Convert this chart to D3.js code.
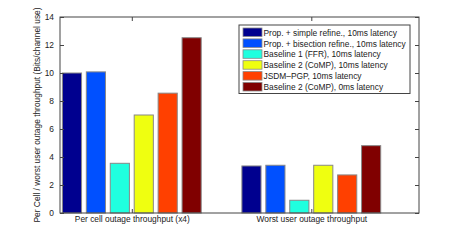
<!DOCTYPE html>
<html>
<head>
<meta charset="utf-8">
<script src="https://cdn.jsdelivr.net/npm/d3@7"></script>
<style>
body { margin: 0; background: #fff; }
text { font-family: "Liberation Sans", Arial, sans-serif; }
</style>
</head>
<body>
<div id="chart"></div>
<script>
//Chart data
var groups = ["Per cell outage throughput (x4)", "Worst user outage throughput"];
var series = [
	"Prop. + simple refine., 10ms latency",
	"Prop. + bisection refine., 10ms latency",
	"Baseline 1 (FFR), 10ms latency",
	"Baseline 2 (CoMP), 10ms latency",
	"JSDM\u2013PGP, 10ms latency",
	"Baseline 2 (CoMP), 0ms latency"
];
var colors = ["#00008f", "#0050ff", "#20ffdf", "#efff10", "#ff4000", "#800000"];
var perCell = [10.0, 10.08, 3.55, 7.0, 8.56, 12.52];
var worstUser = [3.36, 3.41, 0.91, 3.41, 2.72, 4.81];
var yTicks = [0, 2, 4, 6, 8, 10, 12, 14];

var values = [perCell, worstUser];

//plot box (note: "top" is reserved on window, so use pTop)
var W = 463, H = 240,
	pLeft = 60, pRight = 419, pTop = 17, pBottom = 213,
	fs = 8.4;

var svg = d3.select("#chart").append("svg")
	.attr("width", W)
	.attr("height", H);

//MATLAB style x axis: groups at 1 and 2, xlim [0.6, 2.6]
var x = d3.scaleLinear().domain([0.6, 2.6]).range([pLeft, pRight]);
var y = d3.scaleLinear().domain([0, 14]).range([pBottom, pTop]);

var barStep = x(1 + 0.8 / 6) - x(1), barW = barStep * 0.8;

//Bars
var g = svg.append("g");
values.forEach(function(vals, gi) {
	var cx = x(gi + 1);
	g.selectAll(null)
		.data(vals).enter().append("rect")
		.attr("x", function(d, i) { return cx + (i - 2.5) * barStep - barW / 2; })
		.attr("y", function(d) { return y(d); })
		.attr("width", barW)
		.attr("height", function(d) { return y(0) - y(d); })
		.attr("fill", function(d, i) { return colors[i]; })
		.attr("stroke", "#888")
		.attr("stroke-width", 1);
});

//Axes box
var axisCol = "#444";
svg.append("rect")
	.attr("x", pLeft).attr("y", pTop)
	.attr("width", pRight - pLeft).attr("height", pBottom - pTop)
	.attr("fill", "none").attr("stroke", axisCol).attr("stroke-width", 1);

//Y ticks both sides
var ga = svg.append("g").attr("transform", "translate(" + pLeft + ",0)")
	.call(d3.axisLeft(y).tickValues(yTicks).tickSizeInner(-4).tickSizeOuter(0).tickPadding(6));
ga.select(".domain").remove();
ga.selectAll("line").attr("stroke", axisCol);
ga.selectAll("text").attr("font-size", fs).attr("fill", "#222").style("font-family", "Liberation Sans, Arial, sans-serif");

var gr = svg.append("g").attr("transform", "translate(" + pRight + ",0)")
	.call(d3.axisRight(y).tickValues(yTicks).tickSizeInner(-4).tickSizeOuter(0).tickFormat(""));
gr.select(".domain").remove();
gr.selectAll("line").attr("stroke", axisCol);

//X ticks (top and bottom, inside)
var gt = svg.append("g").attr("transform", "translate(0," + pTop + ")")
	.call(d3.axisTop(x).tickValues([1, 2]).tickSizeInner(-4).tickSizeOuter(0).tickFormat(""));
gt.select(".domain").remove();
gt.selectAll("line").attr("stroke", axisCol);
var gb = svg.append("g").attr("transform", "translate(0," + pBottom + ")")
	.call(d3.axisBottom(x).tickValues([1, 2]).tickSizeInner(-4).tickSizeOuter(0)
		.tickFormat(function(d) { return groups[d - 1]; }).tickPadding(3));
gb.select(".domain").remove();
gb.selectAll("line").attr("stroke", axisCol);
gb.selectAll("text").attr("font-size", fs).attr("fill", "#222").style("font-family", "Liberation Sans, Arial, sans-serif");

//Y label
svg.append("text")
	.attr("transform", "translate(40," + ((pTop + pBottom) / 2) + ") rotate(-90)")
	.attr("text-anchor", "middle")
	.attr("font-size", fs)
	.attr("fill", "#222")
	.text("Per Cell / worst user outage throughput (Bits/channel use)");

//Legend
var lg = svg.append("g").attr("transform", "translate(239,25)");
lg.append("rect")
	.attr("width", 171).attr("height", 68.5)
	.attr("fill", "#fff").attr("stroke", axisCol).attr("stroke-width", 1);
var item = lg.selectAll("g.item").data(series).enter().append("g")
	.attr("class", "item")
	.attr("transform", function(d, i) { return "translate(4," + (3 + i * 10.9) + ")"; });
item.append("rect")
	.attr("width", 19).attr("height", 8.5)
	.attr("fill", function(d, i) { return colors[i]; })
	.attr("stroke", "#888").attr("stroke-width", 0.8);
item.append("text")
	.attr("x", 20.5).attr("y", 7.6)
	.attr("font-size", fs)
	.attr("fill", "#222")
	.text(function(d) { return d; });
</script>
</body>
</html>
